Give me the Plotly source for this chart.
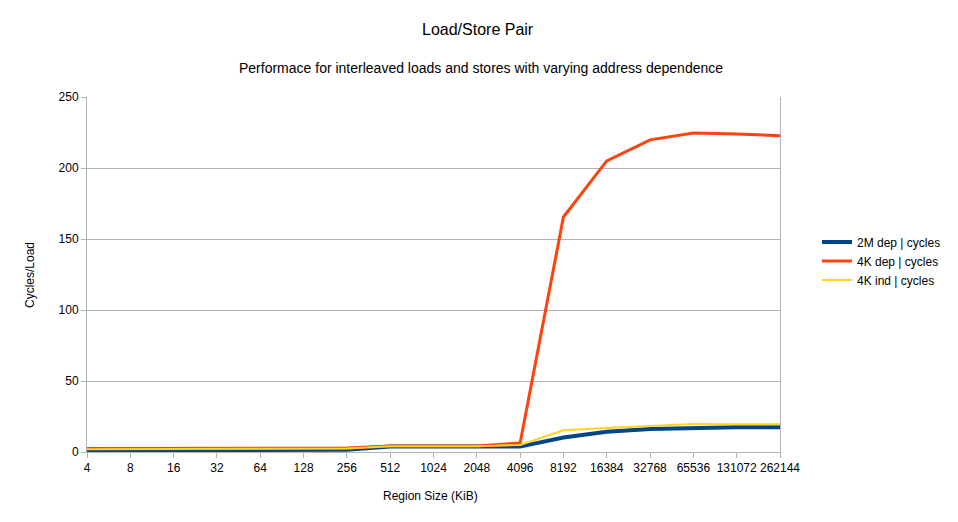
import plotly.graph_objects as go

categories = ["4", "8", "16", "32", "64", "128", "256", "512", "1024", "2048",
              "4096", "8192", "16384", "32768", "65536", "131072", "262144"]
dep_2m = [1.2, 1.2, 1.2, 1.2, 1.2, 1.3, 1.6, 3.8, 3.8, 3.8, 3.8, 10.2, 14.2, 16.2, 17.1, 17.5, 17.5]
dep_4k = [2.4, 2.4, 2.4, 2.4, 2.4, 2.7, 2.9, 4.3, 4.3, 4.3, 6.3, 165.5, 205.0, 219.8, 224.7, 224.0, 222.7]
ind_4k = [2.0, 2.0, 2.0, 2.0, 2.0, 2.2, 2.4, 4.0, 4.0, 4.0, 5.0, 15.3, 16.9, 18.3, 19.7, 19.6, 19.5]
yticks = [0, 50, 100, 150, 200, 250]

FONT = "Liberation Sans, Arial, sans-serif"
GRID = "#b3b3b3"

fig = go.Figure()
fig.add_trace(go.Scatter(x=categories, y=dep_2m, mode="lines", name="2M dep | cycles",
                         line=dict(color="#004586", width=4)))
fig.add_trace(go.Scatter(x=categories, y=dep_4k, mode="lines", name="4K dep | cycles",
                         line=dict(color="#ff420e", width=3)))
fig.add_trace(go.Scatter(x=categories, y=ind_4k, mode="lines", name="4K ind | cycles",
                         line=dict(color="#ffd320", width=2)))

L, R, T, B = 87, 178, 97, 70
W, H = 958, 522
pw, ph = W - L - R, H - T - B

def px_x(p):
    return (p - L) / pw

def px_y(p):
    return (H - B - p) / ph

fig.update_layout(
    width=W, height=H,
    margin=dict(l=L, r=R, t=T, b=B, autoexpand=False),
    paper_bgcolor="white", plot_bgcolor="white",
    font=dict(family=FONT, size=12, color="black"),
    showlegend=True,
    legend=dict(x=px_x(817), y=px_y(261), xanchor="left", yanchor="middle",
                font=dict(size=12, family=FONT), bgcolor="rgba(0,0,0,0)",
                tracegroupgap=0, itemwidth=30),
    xaxis=dict(type="category", categoryorder="array", categoryarray=categories,
               range=[0, len(categories) - 1], showgrid=False,
               showline=True, linecolor=GRID, linewidth=1,
               ticks="outside", ticklen=5, tickcolor=GRID,
               tickfont=dict(size=12, family=FONT), zeroline=False),
    yaxis=dict(range=[0, 250], tickvals=yticks, showgrid=True, gridcolor=GRID,
               gridwidth=1, showline=True, linecolor=GRID, linewidth=1, mirror=True,
               ticks="outside", ticklen=5, tickcolor=GRID, zeroline=False,
               tickfont=dict(size=12, family=FONT)),
    annotations=[
        dict(text="Load/Store Pair", xref="paper", yref="paper",
             x=px_x(478), y=px_y(29), xanchor="center", yanchor="middle",
             showarrow=False, font=dict(size=16, family=FONT)),
        dict(text="Performace for interleaved loads and stores with varying address dependence",
             xref="paper", yref="paper", x=px_x(481), y=px_y(68),
             xanchor="center", yanchor="middle", showarrow=False,
             font=dict(size=14, family=FONT)),
        dict(text="Cycles/Load", xref="paper", yref="paper", x=px_x(30), y=px_y(275),
             xanchor="center", yanchor="middle", textangle=-90, showarrow=False,
             font=dict(size=12, family=FONT)),
        dict(text="Region Size (KiB)", xref="paper", yref="paper", x=px_x(430), y=px_y(496),
             xanchor="center", yanchor="middle", showarrow=False,
             font=dict(size=12, family=FONT)),
    ],
)

fig.write_html("out.html")
